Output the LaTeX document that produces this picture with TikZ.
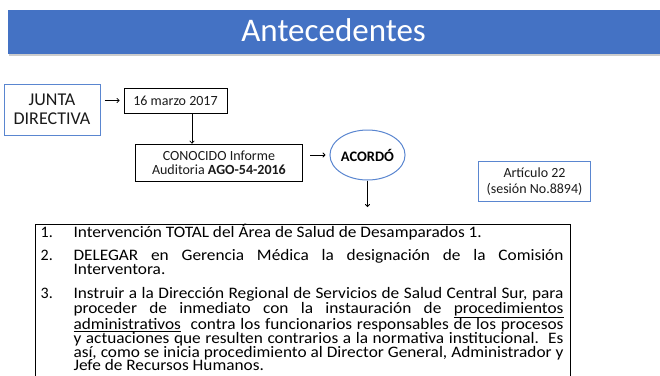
\documentclass[tikz,border=0pt]{standalone}
\usepackage{fontspec}
\usepackage{graphicx}
\setmainfont{Carlito}
\usetikzlibrary{arrows.meta,shapes.geometric}
\definecolor{barblue}{HTML}{4472C4}
\definecolor{boxblue}{HTML}{5A86D0}
\definecolor{txt}{HTML}{1A1A1A}
\newcommand{\jline}[1]{\makebox[453.7pt][s]{#1}}
\newcommand{\litem}[1]{\scalebox{1.08}[1]{\parbox[t]{453.7pt}{#1}}}
\begin{document}
\begin{tikzpicture}[x=1pt,y=-1pt,
  arr/.style={-{To[length=3pt,width=5pt]}, line width=0.8pt},
  blk/.style={draw=black, line width=0.8pt, inner sep=0pt, text=txt, align=center},
  blu/.style={draw=boxblue, line width=1pt, inner sep=0pt, text=txt, align=center},
  small/.style={font=\fontsize{14}{14.5}\selectfont},
  ln/.style={anchor=base west, inner sep=0pt, text=black, font=\fontsize{16}{13.7}\selectfont},
]
\useasboundingbox (0,0) rectangle (660,375);
% title bar
\fill[gray!40] (9,11) rectangle (662,56);
\node[fill=barblue, minimum width=652, minimum height=44.7, inner sep=0, anchor=north west] (title) at (8,9.3) {};
\node[anchor=base, text=white, font=\fontsize{33}{33}\selectfont, inner sep=0] (titletext) at (333.6,41.7) {Antecedentes};
% boxes
\node[blu, minimum width=96, minimum height=51, font=\fontsize{18}{19}\selectfont] (junta) at (52,109.5) {JUNTA\\DIRECTIVA};
\node[blk, small, minimum width=103, minimum height=25] (fecha) at (175.5,100.5) {16 marzo 2017};
\node[blk, small, minimum width=167.7, minimum height=37.7] (conocido) at (218.9,162.85) {CONOCIDO Informe\\Auditoria \textbf{AGO-54-2016}};
\node[ellipse, draw=boxblue, line width=1pt, inner sep=0, minimum width=75, minimum height=50, font=\bfseries\fontsize{14.5}{15}\selectfont] (acordo) at (367.5,155) {ACORDÓ};
\node[blu, font=\fontsize{14}{16.5}\selectfont, minimum width=112.4, minimum height=40] (articulo) at (534.5,181.7) {Artículo 22\\(sesión No.8894)};
% connectors
\draw[arr] ([xshift=4]junta.east |- fecha.west) -- ([xshift=-4]fecha.west);
\draw[arr] ([xshift=16.5]fecha.south) -- ([xshift=16.5]fecha.south |- conocido.north);
\draw[arr] ([xshift=7]conocido.east |- acordo.west) -- ([xshift=-4]acordo.west);
\coordinate (acdown) at (369,207);
\draw[arr] (acordo.south) -- (acordo.south |- acdown);
% list box
\draw[line width=0.9pt] (35,376) -- (35,224.3) -- (570,224.3) -- (570,376);
% list text
\node[ln] (n1) at (40.5,237.7) {1.};
\node[ln] (l1) at (73.3,237.7) {\litem{Intervención TOTAL del Área de Salud de Desamparados 1.}};
\node[ln] (n2) at (40.5,260.3) {2.};
\node[ln] (l2) at (73.3,260.3) {\litem{\jline{DELEGAR en Gerencia Médica la designación de la Comisión}\\Interventora.}};
\node[ln] (n3) at (40.5,298.3) {3.};
\node[ln] (l3) at (73.3,298.3) {\litem{\jline{Instruir a la Dirección Regional de Servicios de Salud Central Sur, para}\\
\jline{proceder de inmediato con la instauración de \underline{procedimientos}}\\
\jline{\underline{administrativos}\ \ contra los funcionarios responsables de los procesos}\\
\jline{y actuaciones que resulten contrarios a la normativa institucional.\ \ Es}\\
\jline{así, como se inicia procedimiento al Director General, Administrador y}\\
Jefe de Recursos Humanos.}};
\end{tikzpicture}
\end{document}
